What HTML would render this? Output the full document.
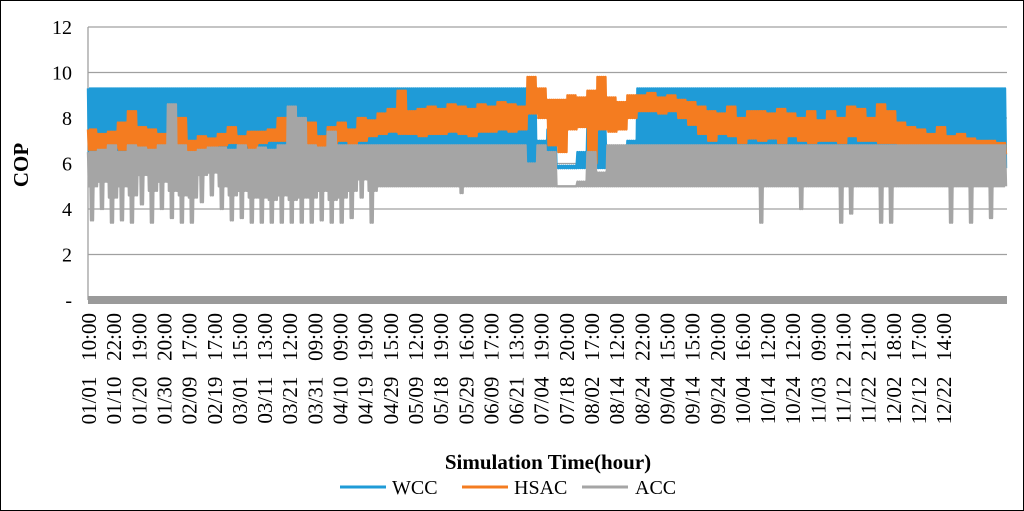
<!DOCTYPE html>
<html><head><meta charset="utf-8"><style>
body{margin:0;background:#fff}
svg{display:block;font-family:"Liberation Serif",serif}
</style></head><body>
<svg id="c" width="1024" height="511">
<rect x="0.5" y="0.5" width="1023" height="510" fill="#fff" stroke="#000"/>
<g id="grid"></g><g id="series"></g><g id="axes"></g>
<text x="28" y="165" transform="rotate(-90 28 165)" text-anchor="middle" font-weight="bold" font-size="21">COP</text>
<text x="548" y="469" text-anchor="middle" font-weight="bold" font-size="21">Simulation Time(hour)</text>
<g>
<g><line x1="340" y1="487" x2="386" y2="487" stroke="#1f9bd7" stroke-width="3"/><text x="392" y="494" font-size="20">WCC</text></g>
<g><line x1="462" y1="487" x2="508" y2="487" stroke="#f47c20" stroke-width="3"/><text x="514" y="494" font-size="20">HSAC</text></g>
<g><line x1="582" y1="487" x2="628" y2="487" stroke="#a5a5a5" stroke-width="3"/><text x="635" y="494" font-size="20">ACC</text></g>
</g>
</svg>
<script>
const yTicks=[0,2,4,6,8,10,12];
const yTickLabels=["-","2","4","6","8","10","12"];
const xLabels=["01/01   10:00","01/10   22:00","01/20   19:00","01/30   20:00","02/09   17:00","02/19   17:00","03/01   15:00","03/11   13:00","03/21   12:00","03/31   09:00","04/10   09:00","04/19   19:00","04/29   15:00","05/09   12:00","05/18   19:00","05/29   16:00","06/09   17:00","06/21   13:00","07/04   19:00","07/18   20:00","08/02   17:00","08/14   12:00","08/24   22:00","09/04   15:00","09/14   15:00","09/24   20:00","10/04   16:00","10/14   12:00","10/24   12:00","11/03   09:00","11/12   21:00","11/22   21:00","12/02   18:00","12/12   17:00","12/22   14:00"];
const wccHi=[9.3,9.3,9.3,9.3,9.3,9.3,9.3,9.3,9.3,9.3,9.3,9.3,9.3,9.3,9.3,9.3,9.3,9.3,9.3,9.3,9.3,9.3,9.3,9.3,9.3,9.3,9.3,9.3,9.3,9.3,9.3,9.3,9.3,9.3,9.3,9.3,9.3,9.3,9.3,9.3,9.3,9.3,9.3,9.3,9.0,7.0,7.5,5.9,5.9,6.5,7.8,7.5,6.0,6.0,7.0,9.3,9.3,9.3,9.3,9.3,9.3,9.3,9.3,9.3,9.3,9.3,9.3,9.3,9.3,9.3,9.3,9.3,9.3,9.3,9.3,9.3,9.3,9.3,9.3,9.3,9.3,9.3,9.3,9.3,9.3,9.3,9.3,9.3,9.3,9.3,9.3,9.3];
const wccLo=[6.0,6.0,6.0,6.0,6.0,6.0,6.0,6.0,6.0,6.0,6.0,6.0,6.0,6.0,6.0,6.0,6.0,6.0,6.0,6.0,6.0,6.0,6.0,6.0,6.0,6.0,6.0,6.0,6.0,6.0,6.0,5.8,5.8,5.8,5.8,5.8,5.8,5.8,5.8,5.8,5.8,5.8,5.8,5.8,5.8,5.8,5.8,5.8,5.8,5.8,5.8,5.8,5.8,5.8,5.8,5.8,5.8,5.8,5.8,5.8,5.8,5.8,5.8,5.8,5.8,5.8,5.8,5.8,5.8,5.8,5.8,5.8,5.8,5.8,5.8,5.8,5.8,5.8,5.8,5.8,5.8,5.8,5.8,5.8,5.8,5.8,5.8,5.8,5.8,5.8,5.8,5.8];
const hsacHi=[7.5,7.3,7.4,7.8,8.3,7.6,7.5,7.3,7.2,8.0,7.0,7.2,7.1,7.3,7.6,7.2,7.4,7.4,7.5,8.0,7.6,7.5,7.8,7.2,7.6,7.8,7.5,8.0,7.9,8.2,8.4,9.2,8.3,8.4,8.5,8.4,8.6,8.5,8.4,8.6,8.5,8.7,8.6,8.5,9.8,9.3,8.8,8.8,9.0,8.9,9.2,9.8,8.9,8.7,9.0,9.0,9.1,8.9,9.0,8.8,8.7,8.5,8.3,8.2,8.5,8.0,8.3,8.3,8.2,8.4,8.2,8.0,8.3,7.9,8.3,8.0,8.5,8.4,8.0,8.6,8.3,7.8,7.6,7.5,7.3,7.6,7.2,7.3,7.1,7.0,7.0,6.9];
const hsacLo=[6.6,6.5,6.7,6.6,6.8,6.7,6.6,6.5,6.5,6.6,5.3,6.6,6.6,6.8,6.9,6.8,6.6,6.9,7.0,7.0,6.8,6.7,6.5,6.6,6.8,7.0,6.8,7.0,7.2,7.3,7.4,7.3,7.3,7.2,7.3,7.3,7.4,7.3,7.2,7.4,7.4,7.5,7.4,7.5,8.2,8.0,6.8,6.5,7.5,7.6,6.0,7.5,7.4,7.5,8.0,8.3,8.3,8.2,8.3,8.0,7.7,7.3,7.0,7.3,7.2,6.9,7.1,7.0,7.1,6.9,7.2,7.0,6.9,7.0,7.0,6.9,7.2,7.0,7.0,6.9,6.9,6.8,6.7,6.7,6.6,6.6,6.5,6.4,6.4,6.5,6.2,6.4];
const accHi=[6.5,6.6,6.8,6.5,6.8,6.7,6.6,6.8,8.6,6.8,6.5,6.6,6.7,6.7,6.6,6.8,6.6,6.7,6.6,6.8,8.5,8.0,6.8,6.7,7.4,6.8,6.8,6.8,6.8,6.8,6.8,6.8,6.8,6.8,6.8,6.8,6.8,6.8,6.8,6.8,6.8,6.8,6.8,6.8,6.0,6.8,6.5,5.0,5.0,5.2,6.5,5.6,6.8,6.8,6.8,6.8,6.8,6.8,6.8,6.8,6.8,6.8,6.8,6.8,6.8,6.8,6.8,6.8,6.8,6.8,6.8,6.8,6.8,6.8,6.8,6.8,6.8,6.8,6.8,6.8,6.8,6.8,6.8,6.8,6.8,6.8,6.8,6.8,6.8,6.8,6.8,6.8];
const accMid=[5.0,5.2,4.5,5.0,4.6,5.5,4.8,5.2,4.8,4.6,4.5,5.5,5.6,5.0,4.6,4.8,4.5,4.5,4.4,4.6,4.4,4.5,4.5,4.8,4.4,4.5,4.8,5.3,4.8,5.0,5.0,5.0,5.0,5.0,5.0,5.0,5.0,5.0,5.0,5.0,5.0,5.0,5.0,5.0,5.0,5.0,5.0,5.0,5.0,5.0,5.0,5.0,5.0,5.0,5.0,5.0,5.0,5.0,5.0,5.0,5.0,5.0,5.0,5.0,5.0,5.0,5.0,5.0,5.0,5.0,5.0,5.0,5.0,5.0,5.0,5.0,5.0,5.0,5.0,5.0,5.0,5.0,5.0,5.0,5.0,5.0,5.0,5.0,5.0,5.0,5.0,5.0];
const accLo=[3.5,4.0,3.4,3.5,3.4,4.2,3.4,4.0,3.6,3.4,3.4,4.3,4.6,4.0,3.5,3.6,3.4,3.4,3.4,3.4,3.4,3.4,3.4,3.5,3.4,3.4,3.6,4.5,3.4,5.0,5.0,5.0,5.0,5.0,5.0,5.0,5.0,4.7,5.0,5.0,5.0,5.0,5.0,5.0,5.0,5.0,5.0,5.0,5.0,5.0,5.0,5.0,5.0,5.0,5.0,5.0,5.0,5.0,5.0,5.0,5.0,5.0,5.0,5.0,5.0,5.0,5.0,3.4,5.0,5.0,5.0,4.0,5.0,5.0,5.0,3.4,3.8,5.0,5.0,3.4,3.4,5.0,5.0,5.0,5.0,5.0,3.4,5.0,3.4,5.0,3.6,5.0];

const NS="http://www.w3.org/2000/svg";
const X0=88,X1=1007,Y0=300,PXU=22.75;
const y=v=>Y0-v*PXU;
const nb=wccHi.length, bw=(X1-X0)/nb;
const xb=i=>X0+i*bw;
const xl=k=>96+k*25.15;
const grid=document.getElementById('grid'),axes=document.getElementById('axes'),ser=document.getElementById('series');
function mk(tag,attrs,parent){const e=document.createElementNS(NS,tag);for(const k in attrs)e.setAttribute(k,attrs[k]);parent.appendChild(e);return e;}
yTicks.forEach((v,i)=>{
  if(v>0){const g=mk('line',{x1:X0,x2:X1,y1:y(v),y2:y(v),stroke:'#a0a0a0','stroke-width':1.3},grid);
  
  }
  const t=mk('text',{x:72,y:y(v)+7,'text-anchor':'end','font-size':20},axes);t.textContent=yTickLabels[i];
  
  
});
const ya=mk('line',{x1:X0,x2:X0,y1:y(12),y2:Y0,stroke:'#a0a0a0','stroke-width':1.3},grid);


function band(hi,lo,color,name,mid){
  let pts=[];const S=10;
  for(let i=0;i<nb;i++){
    for(let s=0;s<S;s++){
      let v;
      if(s%2===0) v=hi[i];
      else if(mid) v=(s===3||s===5)?lo[i]:mid[i];
      else v=lo[i];
      pts.push((xb(i)+s*bw/S).toFixed(2)+','+y(v).toFixed(1));
    }
  }
  const p=mk('polyline',{points:pts.join(' '),fill:'none',stroke:color,'stroke-width':2.4,'stroke-linejoin':'round'},ser);
  
  
}
band(wccHi,wccLo,'#1f9bd7','series-wcc');
band(hsacHi,hsacLo,'#f47c20','series-hsac');
band(accHi,accLo,'#a5a5a5','series-acc',accMid);
const xa=mk('rect',{x:X0,y:296,width:X1-X0,height:8,fill:'#9a9a9a'},axes);


xLabels.forEach((s,k)=>{
  const x=xl(k);
  const t=mk('text',{x:x,y:313,'text-anchor':'end','font-size':21,transform:'rotate(-90 '+x+' 313)'},axes);
  t.setAttribute('style','white-space:pre');
  t.textContent=s;
  
  
});
</script>
</body></html>
